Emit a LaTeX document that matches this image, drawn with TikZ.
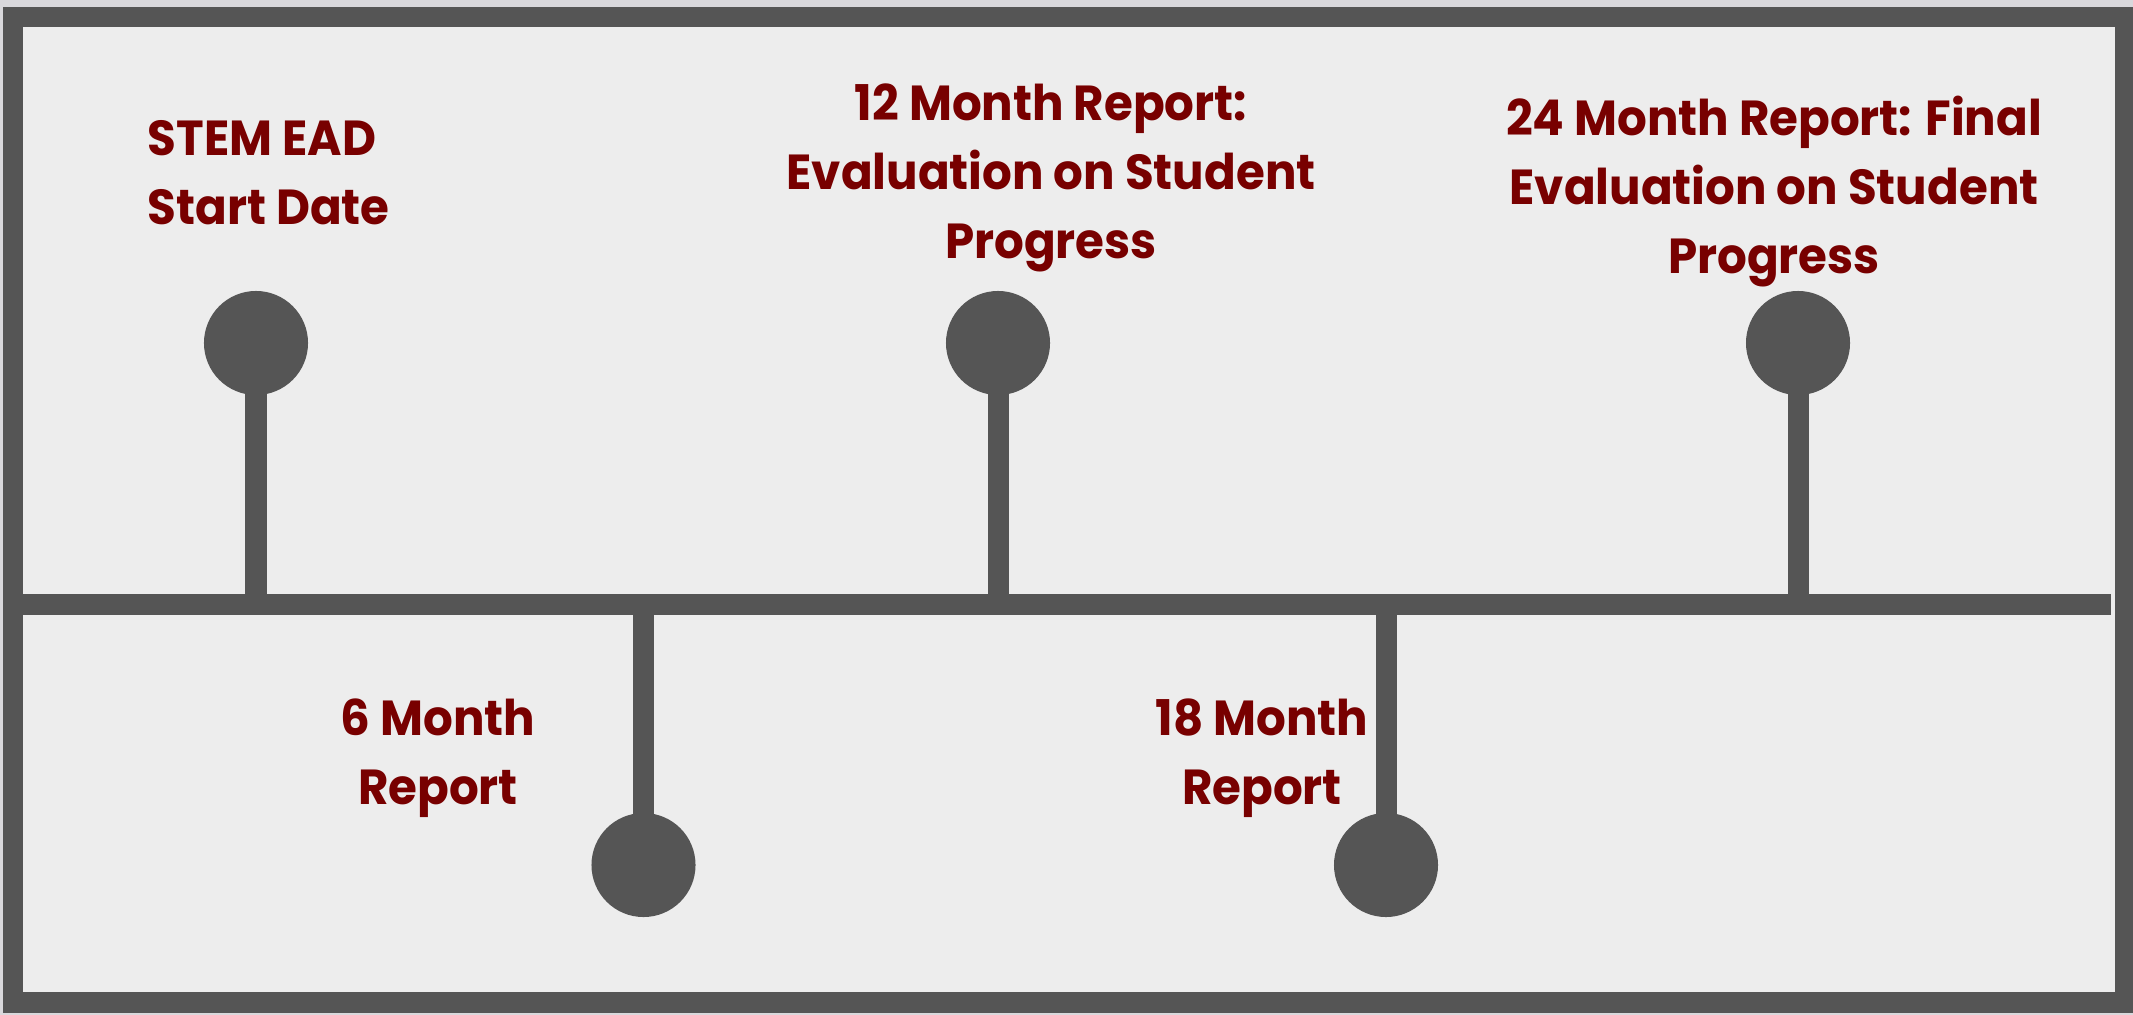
\documentclass[tikz,border=0pt]{standalone}
\usepackage{fontspec}
\setmainfont{Poppins}[BoldFont={* Bold},FakeStretch=0.95]
\definecolor{margin}{HTML}{D9D8DC}
\definecolor{paper}{HTML}{EDEDED}
\definecolor{ink}{HTML}{555555}
\definecolor{label}{HTML}{780000}
\begin{document}
\begin{tikzpicture}[x=0.01cm,y=-0.01cm,
  dot/.style={circle,fill=ink,inner sep=0pt,minimum size=1.04cm},
  stem/.style={draw=ink,line width=0.21cm},
  lbl/.style={text=label,inner sep=0pt,font=\fontsize{14}{19.5}\selectfont\bfseries}]
  % frame and background
  \useasboundingbox (0,0) rectangle (2133,1015);
  \fill[margin] (0,0) rectangle (2133,1015);
  \fill[ink] (3,7) rectangle (2133,1013);
  \fill[paper] (23,27) rectangle (2115,992);
  % time axis
  \coordinate (axisL) at (23,604);
  \coordinate (axisR) at (2111,604);
  \draw[stem] (axisL) -- (axisR);
  % milestones above the axis
  \node[dot] (d0)  at (256,343) {};
  \node[dot] (d12) at (998,343) {};
  \node[dot] (d24) at (1798,343) {};
  % milestones below the axis
  \node[dot] (d6)  at (643.5,865) {};
  \node[dot] (d18) at (1386,865) {};
  \draw[stem] (d0.center)  -- (d0.center |- axisL);
  \draw[stem] (d12.center) -- (d12.center |- axisL);
  \draw[stem] (d24.center) -- (d24.center |- axisL);
  \draw[stem] (d6.center)  -- (d6.center |- axisL);
  \draw[stem] (d18.center) -- (d18.center |- axisL);
  % labels (anchored at the baseline of their last line)
  \node[lbl,anchor=base west,align=left] (t0) at (147,224) {STEM EAD\\Start Date};
  \node[lbl,anchor=base,align=center] (t12) at (1051,258) {12 Month Report:\\Evaluation on Student\\Progress};
  \node[lbl,anchor=base,align=center] (t24) at (1774,273) {24 Month Report: Final\\Evaluation on Student\\Progress};
  \node[lbl,anchor=base,align=center] (t6) at (438,804) {6 Month\\Report};
  \node[lbl,anchor=base,align=center] (t18) at (1262,804) {18 Month\\Report};
\end{tikzpicture}
\end{document}
